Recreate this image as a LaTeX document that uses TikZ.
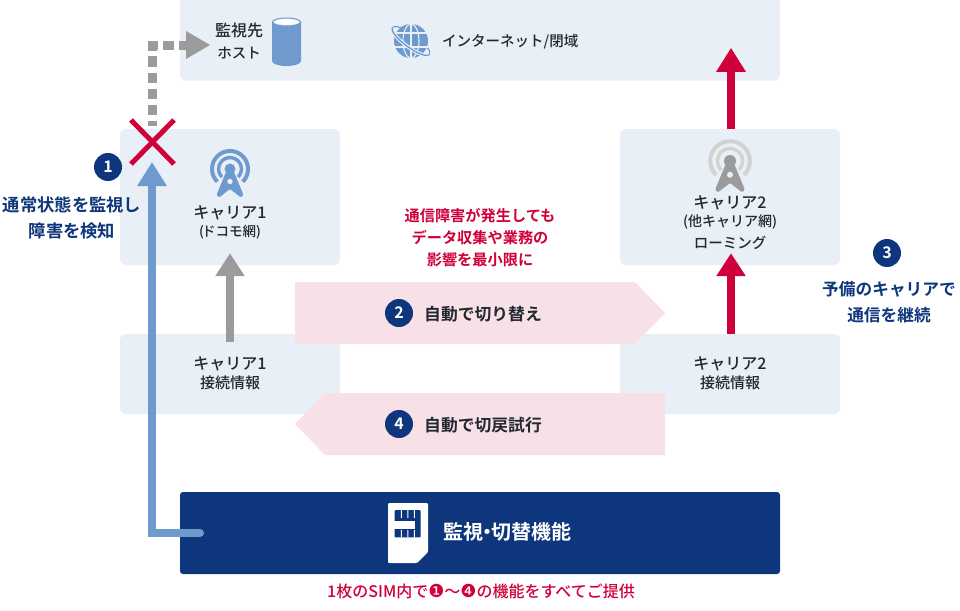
\documentclass[tikz,border=0pt]{standalone}
\usepackage{fontspec}
\setmainfont[BoldFont={Noto Sans CJK JP Bold}]{Noto Sans CJK JP Medium}
\newfontfamily\dejafont{DejaVu Sans}
\usetikzlibrary{arrows.meta,calc}
\definecolor{boxbg}{HTML}{E8EFF7}
\definecolor{navy}{HTML}{0E367C}
\definecolor{midblue}{HTML}{6F9ACD}
\definecolor{midgrey}{HTML}{9B9B9B}
\definecolor{lightgrey}{HTML}{D2D2D2}
\definecolor{crimson}{HTML}{D0003A}
\definecolor{pinkbg}{HTML}{F7E1E7}
\definecolor{inkdark}{HTML}{222830}
\tikzset{
 panel/.style={fill=boxbg,rounded corners=6pt,inner sep=0pt},
 badge/.style={circle,fill=navy,text=white,minimum size=28pt,inner sep=0pt,font=\fontsize{16}{18}\selectfont\bfseries},
 darktext/.style={text=inkdark,align=center,inner sep=0pt},
 navytext/.style={text=navy,align=center,inner sep=0pt,font=\fontsize{17.3}{26}\selectfont\bfseries},
 redtext/.style={text=crimson,align=center,inner sep=0pt,font=\fontsize{15.2}{22}\selectfont\bfseries},
 thickarrow/.style={line width=8pt},
}
\newcommand{\antenna}[5]{% x, y, arc colour, tower colour, scale
 \begin{scope}[shift={(#1,#2)},scale=#5]
  \draw[#3,line width=4pt] (-12.7,12.7) arc[start angle=135,end angle=405,radius=18];
  \draw[#3,line width=3.4pt] (-8.1,8.1) arc[start angle=135,end angle=405,radius=11.5];
  \fill[#4] (0,0) circle (5.5);
  \fill[#4,rounded corners=1.2pt] (-4,3) -- (4,3) -- (13.5,26) -- (11,28.5) -- (0,20) -- (-11,28.5) -- (-13.5,26) -- cycle;
  \fill[boxbg] (0,12.5) circle (2.7);
 \end{scope}}
\begin{document}
\begin{tikzpicture}[x=1pt,y=-1pt]
\useasboundingbox (0,0) rectangle (960,610);
\fill[white] (0,0) rectangle (960,610);
% panels
\node[panel,minimum width=600pt,minimum height=91pt] (net) at (480,35) {};
\node[panel,minimum width=220pt,minimum height=136pt] (car1) at (230,197) {};
\node[panel,minimum width=220pt,minimum height=136pt] (car2) at (730,197) {};
\node[panel,minimum width=220pt,minimum height=80pt] (info1) at (230,374) {};
\node[panel,minimum width=220pt,minimum height=80pt] (info2) at (730,374) {};
\node[fill=navy,rounded corners=3pt,minimum width=600pt,minimum height=82pt,inner sep=0pt] (mon) at (480,533) {};
% pink arrows
\fill[pinkbg] (295,282) -- (635,282) -- (665,313) -- (635,344) -- (295,344) -- cycle;
\fill[pinkbg] (665,393) -- (665,455) -- (325,455) -- (295,424) -- (325,393) -- cycle;
% connectors
\coordinate (tipdash) at (210,45);
\coordinate (bend) at (152,46);
\coordinate (dashstart) at (152,126);
\draw[midgrey,line width=9pt,dash pattern=on 10.5pt off 5.5pt,dash phase=5pt] (dashstart) -- (bend) -- (186,46);
\fill[midgrey] (186,31) -- (tipdash) -- (186,59) -- cycle;
\draw[thickarrow,midgrey,-{Triangle[length=23pt,width=28pt]}] ([yshift=-8pt]info1.north) -- ([yshift=12pt]car1.south);
\draw[thickarrow,crimson,-{Triangle[length=23pt,width=28pt]}] ([xshift=1pt]info2.north) -- ([xshift=1pt,yshift=12pt]car2.south);
\draw[thickarrow,crimson,-{Triangle[length=24pt,width=28pt]}] ([xshift=1pt]car2.north) -- ([xshift=251pt,yshift=-58.5pt]net.north);
\coordinate (bluecorner) at (152,533);
\coordinate (bluetip) at (152,162);
\draw[thickarrow,midblue,line cap=round,-{Triangle[length=24pt,width=28pt]}] ([xshift=-280pt]mon.center) -- (bluecorner) -- (bluetip);
% X mark
\draw[crimson,line width=5pt] (131,120) -- (174,164);
\draw[crimson,line width=5pt] (174,120) -- (131,164);
% cylinder
\fill[midblue] (272,22) -- (301,22) -- (301,61) arc[start angle=0,end angle=180,x radius=14.5,y radius=5] -- cycle;
\draw[midblue,fill=boxbg,line width=1pt] (286.5,22) ellipse[x radius=14,y radius=4];
\fill[white] (286.5,22) ellipse[x radius=12,y radius=2.8];
% globe
\draw[midblue,line width=1.2pt,rotate around={-36:(411,41)}] (411,41) ellipse[x radius=23,y radius=6.5];
\fill[midblue] (411,41) circle (17);
\draw[boxbg,line width=1.1pt] (394,33) -- (428,33) (394,47) -- (428,47) (411,24) -- (411,58);
\draw[boxbg,line width=1.1pt] (411,41) ellipse[x radius=8,y radius=17];
\begin{scope}[rotate around={-36:(411,41)}]
 \draw[boxbg,line width=3.6pt] (388,41) arc[start angle=180,end angle=0,x radius=23,y radius=6.5];
 \draw[midblue,line width=1.3pt] (388,41) arc[start angle=180,end angle=0,x radius=23,y radius=6.5];
\end{scope}
% antennas
\antenna{230}{169}{midblue}{midblue}{1}
\antenna{730}{161}{lightgrey}{midgrey}{1.1}
% SIM
\fill[white,rounded corners=1pt] (388,503) -- (428,503) -- (428,552) -- (417,563) -- (388,563) -- cycle;
\fill[navy,rounded corners=1pt] (394.5,510) rectangle (420.7,537.3);
\fill[white] (394,520.8) rectangle (414.5,528.5);
\fill[white] (400.8,510) rectangle (401.8,518) (407.3,510) rectangle (408.3,518) (413.8,510) rectangle (414.8,518);
\fill[white] (400.8,530) rectangle (401.8,537.3) (407.3,530) rectangle (408.3,537.3) (413.8,530) rectangle (414.8,537.3);
% labels
\node[darktext,font=\fontsize{16}{22}\selectfont] (hostlabel) at (239,41) {監視先\\{\fontsize{14.5}{20}\selectfont ホスト}};
\node[darktext,font=\fontsize{14.5}{18}\selectfont,anchor=west] (netlabel) at (442,42) {インターネット/閉域};
\node[darktext,font=\fontsize{16}{20}\selectfont] (car1label) at (230,213) {キャリア1};
\node[darktext,font=\fontsize{13.5}{16}\selectfont] (car1sub) at (230,232) {(\hspace{-2pt}ドコモ網)};
\node[darktext,font=\fontsize{16}{20}\selectfont] (car2label) at (730,203) {キャリア2};
\node[darktext,font=\fontsize{14}{16}\selectfont] (car2sub) at (730,222) {(他キャリア網)};
\node[darktext,font=\fontsize{14.5}{16}\selectfont] (car2roam) at (730,243) {ローミング};
\node[darktext,font=\fontsize{16}{20}\selectfont] (info1a) at (230,364) {キャリア1};
\node[darktext,font=\fontsize{15}{16}\selectfont] (info1b) at (230,383) {接続情報};
\node[darktext,font=\fontsize{16}{20}\selectfont] (info2a) at (730,364) {キャリア2};
\node[darktext,font=\fontsize{15}{16}\selectfont] (info2b) at (730,383) {接続情報};
\node[badge] (b1) at (108,167) {1};
\node[badge] (b2) at (399,313) {2};
\node[badge] (b3) at (887,253) {3};
\node[badge] (b4) at (399,424) {4};
\node[navytext] (t1) at (72,218) {通常状態を監視し\\障害を検知};
\node[navytext,font=\fontsize{16.7}{26}\selectfont\bfseries] (t3) at (889,302) {予備のキャリアで\\通信を継続};
\node[redtext] (warn) at (480,238) {通信障害が発生しても\\データ収集や業務の\\影響を最小限に};
\node[text=inkdark,inner sep=0pt,anchor=west,font=\fontsize{16.8}{20}\selectfont\bfseries] (t2) at (424,314) {自動で切り替え};
\node[text=inkdark,inner sep=0pt,anchor=west,font=\fontsize{16.8}{20}\selectfont\bfseries] (t4) at (424,425) {自動で切戻試行};
\node[text=white,inner sep=0pt,anchor=west,font=\fontsize{20}{24}\selectfont\bfseries] (montext) at (443,532) {監視\hspace{-6pt}・\hspace{-6pt}切替機能};
\node[text=crimson,inner sep=0pt,font=\fontsize{16}{20}\selectfont] (bottom) at (481,591) {1枚のSIM内で{\dejafont\fontsize{18}{20}\selectfont ❶}～{\dejafont\fontsize{18}{20}\selectfont ❹}の機能をすべてご提供};
\end{tikzpicture}
\end{document}
